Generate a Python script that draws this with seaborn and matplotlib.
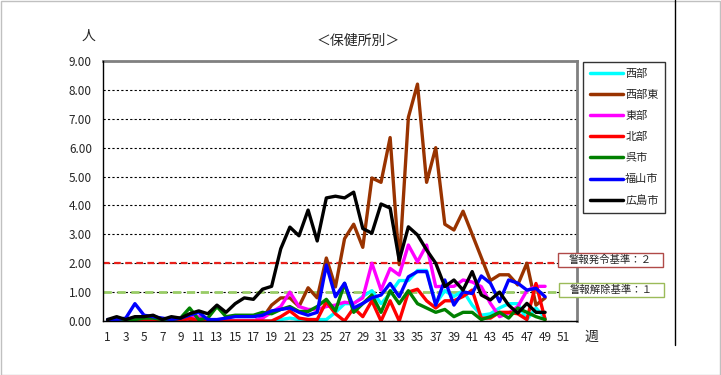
import numpy as np
import pandas as pd
import matplotlib
matplotlib.use("Agg")
import matplotlib.pyplot as plt
import matplotlib.patches as mpatches
from matplotlib.lines import Line2D
from matplotlib.ticker import MultipleLocator, FixedLocator, FuncFormatter
import seaborn as sns

# ---------------- data ----------------
weeks = list(range(1, 50))
series_names = ["西部", "西部東", "東部", "北部", "呉市", "福山市", "広島市"]
series_colors = ["#00ffff", "#993300", "#ff00ff", "#ff0000", "#008000", "#0000ff", "#000000"]

nishi = [0, 0, 0, 0, 0, 0, 0, 0, 0, 0, 0, 0, 0, 0, 0, 0, 0, 0, 0, 0.05,
         0.1, 0.05, 0.05, 0.05, 0.05, 0.3, 0.6, 0.6, 0.85, 1.05, 0.6, 0.95, 1.4, 1.4, 1.75, 1.75,
         0.6, 1.05, 0.85, 1.05, 0.55, 0.2, 0.25, 0.45, 0.6, 0.6, 0.05, 0.45, 0.1]
nishi_higashi = [0, 0, 0, 0, 0, 0, 0, 0, 0, 0, 0, 0, 0, 0, 0, 0, 0, 0.1, 0.55, 0.8,
                 0.8, 0.5, 1.15, 0.8, 2.18, 1.18, 2.85, 3.35, 2.55, 4.95, 4.8, 6.35, 1.95, 7.05, 8.2, 4.8,
                 6.0, 3.35, 3.15, 3.8, 3.0, 2.2, 1.4, 1.6, 1.6, 1.25, 2.0, 0.55, 0.8]
higashi = [0, 0, 0, 0, 0, 0, 0, 0, 0, 0.1, 0.15, 0, 0, 0, 0, 0, 0, 0.1, 0.3, 0.5,
           1.0, 0.5, 0.4, 0.4, 0.5, 0.55, 0.65, 0.61, 0.8, 2.0, 1.07, 1.82, 1.59, 2.63, 2.05, 2.63,
           1.19, 1.2, 1.2, 1.42, 1.35, 1.19, 0.61, 0.15, 0.27, 0.5, 1.05, 1.2, 1.2]
kita = [0, 0, 0.05, 0, 0, 0, 0, 0, 0, 0.1, 0, 0, 0, 0, 0, 0, 0, 0, 0, 0.15,
        0.35, 0.1, 0.05, 0.05, 0.67, 0.25, 0.0, 0.45, 0.15, 0.7, 0.0, 0.7, 0.0, 1.0, 1.1, 0.7,
        0.45, 0.7, 0.7, 0.85, 1.07, 0.1, 0.1, 0.3, 0.3, 0.25, 0.05, 1.3, 0.05]
kure = [0, 0.05, 0.05, 0.05, 0.1, 0.1, 0.05, 0.05, 0.1, 0.45, 0.05, 0.1, 0.5, 0.15, 0.2, 0.2, 0.2, 0.3, 0.25, 0.4,
        0.5, 0.33, 0.33, 0.5, 0.75, 0.35, 1.3, 0.3, 0.6, 0.9, 0.3, 1.05, 0.6, 1.05, 0.6, 0.45,
        0.3, 0.4, 0.15, 0.3, 0.3, 0.05, 0.15, 0.3, 0.1, 0.45, 0.3, 0.15, 0.05]
fukuyama = [0.05, 0.05, 0.1, 0.6, 0.2, 0.15, 0.1, 0.05, 0.1, 0.2, 0.3, 0.05, 0.05, 0.1, 0.15, 0.15, 0.15, 0.2, 0.35, 0.4,
            0.45, 0.3, 0.2, 0.3, 1.94, 0.84, 1.31, 0.45, 0.61, 0.8, 0.9, 1.3, 0.84, 1.53, 1.71, 1.71,
            0.55, 1.42, 0.55, 1.01, 0.95, 1.56, 1.31, 0.67, 1.42, 1.31, 1.07, 1.13, 0.84]
hiroshima = [0.05, 0.15, 0.05, 0.15, 0.15, 0.2, 0.05, 0.15, 0.1, 0.25, 0.35, 0.25, 0.55, 0.3, 0.6, 0.8, 0.75, 1.1, 1.2, 2.5,
             3.25, 2.95, 3.84, 2.77, 4.26, 4.32, 4.26, 4.46, 3.2, 3.04, 4.05, 3.91, 2.1, 3.26, 2.98, 2.46,
             2.0, 1.19, 1.42, 1.07, 1.71, 0.9, 0.73, 1.0, 0.55, 0.27, 0.61, 0.3, 0.3]

series_values = [nishi, nishi_higashi, higashi, kita, kure, fukuyama, hiroshima]

alert_level = 2
release_level = 1
alert_label = "警報発令基準：２"
release_label = "警報解除基準：１"
y_ticks = [0, 1, 2, 3, 4, 5, 6, 7, 8, 9]
x_tick_labels = list(range(1, 53, 2))

# ---------------- figure ----------------
W, H = 721, 375
sns.set_style("white")
plt.rcParams["font.family"] = ["Noto Sans CJK JP", "DejaVu Sans"]

fig = plt.figure(figsize=(W / 100, H / 100), dpi=100)

def fx(px):
    return px / W

def fy(py):
    return 1 - py / H

ax = fig.add_axes([fx(103), fy(321), fx(577) - fx(103), fy(61) - fy(321)])

df = pd.DataFrame({
    "week": np.tile(weeks, len(series_names)),
    "value": np.concatenate(series_values),
    "name": np.repeat(series_names, len(weeks)),
})
palette = dict(zip(series_names, series_colors))

# reference lines (behind data)
ax.axhline(release_level, color="#99cc66", lw=2.0, ls=(0, (3, 2)), zorder=2)
ax.axhline(alert_level, color="#e8201a", lw=1.6, ls=(0, (3, 2)), zorder=2)

sns.lineplot(data=df, x="week", y="value", hue="name", hue_order=series_names,
             palette=palette, lw=2.4, legend=False, ax=ax, zorder=3)

# axes
ax.set_xlim(0.5, 52.5)
ax.set_ylim(0, 9)
ax.yaxis.set_major_locator(FixedLocator(y_ticks))
ax.yaxis.set_minor_locator(MultipleLocator(0.2))
ax.yaxis.set_major_formatter(FuncFormatter(lambda v, p: f"{v:.2f}"))
ax.xaxis.set_major_locator(FixedLocator(x_tick_labels))
ax.xaxis.set_minor_locator(FixedLocator(np.arange(1.5, 52.5, 1)))
ax.tick_params(axis="x", which="major", length=0, pad=7, labelsize=8.5)
ax.tick_params(axis="x", which="minor", length=3, direction="in", color="black")
ax.tick_params(axis="y", which="major", length=4, direction="in", pad=8, labelsize=8.5, color="black")
ax.tick_params(axis="y", which="minor", length=3, direction="in", color="black")
ax.set_xlabel("")
ax.set_ylabel("")

ax.yaxis.grid(True, which="major", color="black", lw=0.8, ls=(0, (2, 2)), zorder=1)
ax.xaxis.grid(False)
ax.set_axisbelow(True)

for s in ["left", "bottom"]:
    ax.spines[s].set_color("black")
    ax.spines[s].set_linewidth(1.0)
    ax.spines[s].set_zorder(5)
for s in ["top", "right"]:
    ax.spines[s].set_color("#808080")
    ax.spines[s].set_linewidth(2.0)

# legend
handles = [Line2D([0], [0], color=c, lw=2.5) for c in series_colors]
leg = ax.legend(handles, series_names, loc="upper left",
                bbox_to_anchor=(fx(583), fy(62)), bbox_transform=fig.transFigure,
                borderaxespad=0, frameon=True, fancybox=False, fontsize=8,
                handlelength=3.0, handletextpad=0.2, labelspacing=1.0,
                borderpad=0.6)
leg.get_frame().set_edgecolor("black")
leg.get_frame().set_linewidth(1.0)

# criterion label boxes
def label_box(x0, y0, x1, y1, edge, text):
    r = mpatches.Rectangle((fx(x0), fy(y1)), fx(x1) - fx(x0), fy(y0) - fy(y1),
                           transform=fig.transFigure, facecolor="white",
                           edgecolor=edge, lw=1.0, zorder=10)
    fig.add_artist(r)
    fig.text(fx((x0 + x1) / 2), fy((y0 + y1) / 2), text, ha="center", va="center",
             fontsize=7.5, zorder=11)

label_box(558, 253, 663, 267, "#b04a48", alert_label)
label_box(559, 283, 664, 297, "#9bbb59", release_label)

# texts
fig.text(fx(358), fy(41), "＜保健所別＞", ha="center", va="center", fontsize=10)
fig.text(fx(88), fy(36), "人", ha="center", va="center", fontsize=10)
fig.text(fx(591), fy(337), "週", ha="center", va="center", fontsize=10)

# frames
fig.add_artist(Line2D([fx(675), fx(675)], [fy(0), fy(345)], transform=fig.transFigure,
                      color="black", lw=1.0))
fig.add_artist(mpatches.Rectangle((0.001, 0.001), 0.998, 0.997, transform=fig.transFigure,
                                  facecolor="none", edgecolor="#c0c0c0", lw=1.0))

fig.savefig("out.png", dpi=100)
